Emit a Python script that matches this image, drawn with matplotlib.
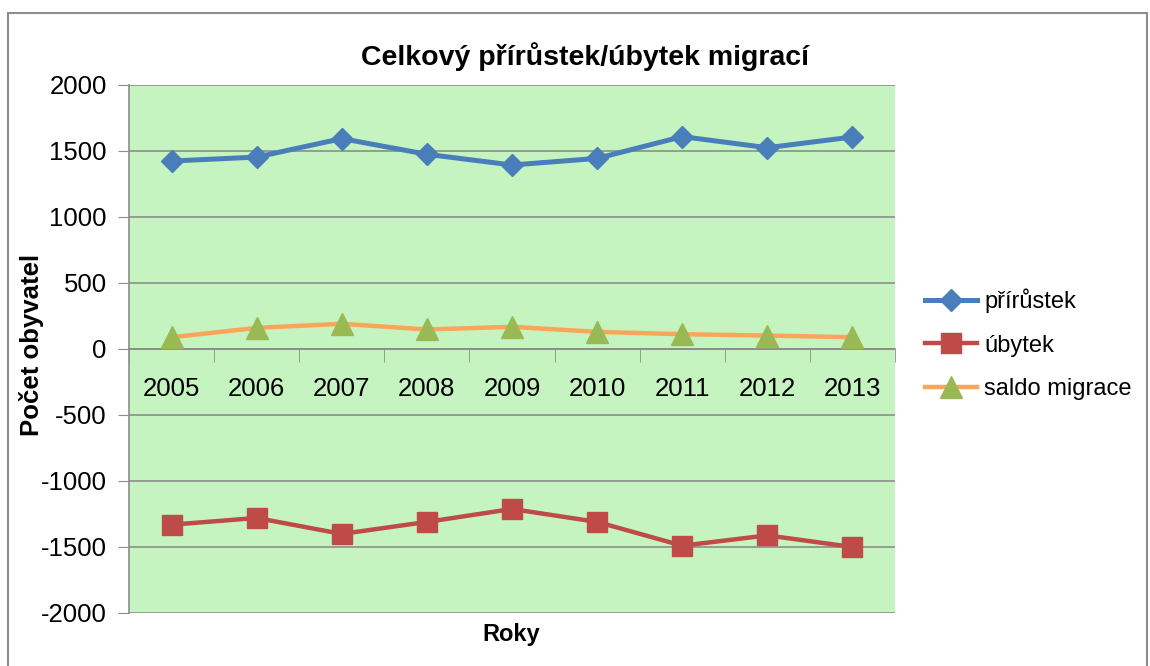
import matplotlib
matplotlib.use('Agg')
import matplotlib.pyplot as plt
import matplotlib.patches as patches
import numpy as np

years = ['2005', '2006', '2007', '2008', '2009', '2010', '2011', '2012', '2013']
prirustek = [1424, 1454, 1594, 1475, 1394, 1444, 1609, 1525, 1606]
ubytek = [-1331, -1280, -1401, -1310, -1212, -1310, -1490, -1412, -1500]
saldo = [89, 160, 191, 148, 168, 130, 112, 102, 89]
yticks = [-2000, -1500, -1000, -500, 0, 500, 1000, 1500, 2000]

plt.rcParams['font.family'] = ['Liberation Sans', 'DejaVu Sans']

fig = plt.figure(figsize=(11.5, 6.66), dpi=100)
fig.patches.append(patches.Rectangle((8 / 1150, -0.01), 1139 / 1150, 1 - 13 / 666 + 0.01,
                                     transform=fig.transFigure, fill=False,
                                     edgecolor='#8c8c8c', linewidth=1.5))

ax = fig.add_axes([129 / 1150, 1 - 613 / 666, (895 - 129) / 1150, (613 - 85) / 666])
ax.set_facecolor('#c5f4c0')

x = np.arange(len(years))
ax.plot(x, prirustek, color='#4a7ebb', lw=3.6, marker='D', ms=11, label='přírůstek', zorder=3)
ax.plot(x, ubytek, color='#be4b48', lw=3.2, marker='s', ms=14, label='úbytek', zorder=3)
ax.plot(x, saldo, color='#f9a65a', lw=3.2, marker='^', ms=16, mfc='#98b954', mec='#98b954',
        label='saldo migrace', zorder=3)

ax.set_xlim(-0.5, len(years) - 0.5)
ax.set_ylim(-2000, 2000)
ax.set_yticks(yticks)
ax.set_yticklabels([str(v) for v in yticks], fontsize=18.5)
ax.yaxis.grid(True, color='#8c8c8c', lw=1.2)
ax.set_axisbelow(True)
ax.tick_params(axis='y', direction='out', length=8, color='#8c8c8c', pad=8)

ax.spines['bottom'].set_position(('data', 0))
for s in ['top', 'right']:
    ax.spines[s].set_visible(False)
ax.spines['left'].set_color('#8c8c8c')
ax.spines['bottom'].set_color('#8c8c8c')
ax.spines['left'].set_linewidth(1.2)
ax.spines['bottom'].set_linewidth(1.2)

ax.set_xticks(x)
ax.set_xticklabels(years, fontsize=18.5)
ax.tick_params(axis='x', which='major', length=0, pad=20)
ax.set_xticks(np.arange(-0.5, len(years)), minor=True)
ax.tick_params(axis='x', which='minor', direction='out', length=9, color='#8c8c8c')

fig.text(585 / 1150, 1 - 57 / 666, 'Celkový přírůstek/úbytek migrací', fontsize=20.5,
         fontweight='bold', ha='center', va='center')
fig.text(32 / 1150, 1 - 345 / 666, 'Počet obyvatel', fontsize=18.5, fontweight='bold',
         rotation=90, ha='center', va='center')
fig.text(511 / 1150, 1 - 634 / 666, 'Roky', fontsize=17, fontweight='bold', ha='center', va='center')

ax.legend(loc='center left', bbox_to_anchor=(1.012, 0.509), frameon=False, fontsize=17,
          handlelength=2.2, labelspacing=0.92, handletextpad=0.28, borderpad=0.4)

fig.savefig('out.png', dpi=100)
